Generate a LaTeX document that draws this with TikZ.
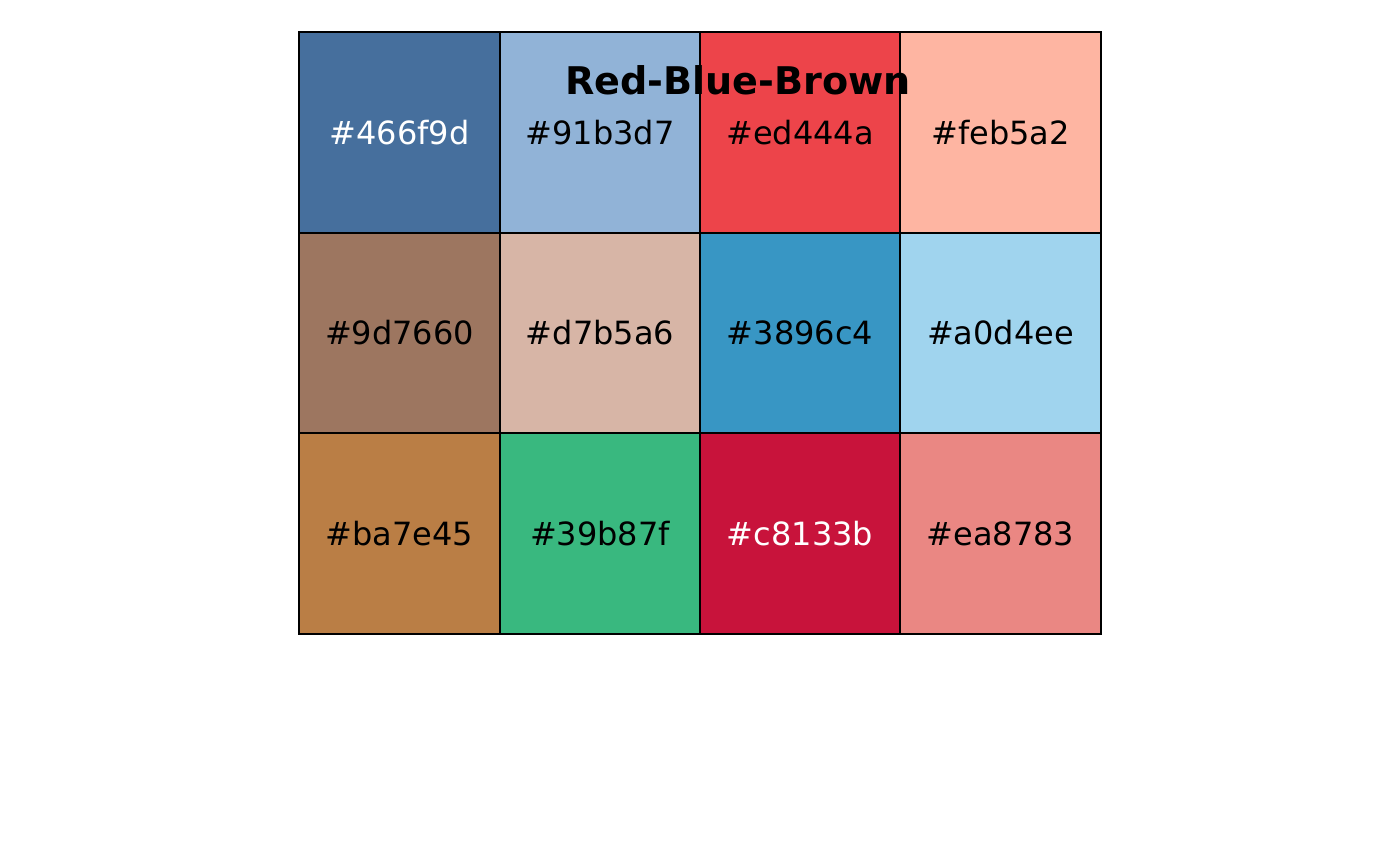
\documentclass[tikz,border=0pt]{standalone}
\usepackage{fontspec}
\setmainfont{DejaVu Sans}
\definecolor{cA}{HTML}{466f9d}
\definecolor{cB}{HTML}{91b3d7}
\definecolor{cC}{HTML}{ed444a}
\definecolor{cD}{HTML}{feb5a2}
\definecolor{cE}{HTML}{9d7660}
\definecolor{cF}{HTML}{d7b5a6}
\definecolor{cG}{HTML}{3896c4}
\definecolor{cH}{HTML}{a0d4ee}
\definecolor{cI}{HTML}{ba7e45}
\definecolor{cJ}{HTML}{39b87f}
\definecolor{cK}{HTML}{c8133b}
\definecolor{cL}{HTML}{ea8783}
\tikzset{
  swatch/.style={minimum width=150.5pt, minimum height=150.5pt, inner sep=0pt, outer sep=0pt, font=\fontsize{24pt}{28pt}\selectfont},
  border/.style={draw=black, line width=1.1pt},
  titletext/.style={font=\fontsize{28.6pt}{34pt}\selectfont\bfseries, inner sep=0pt}
}
\begin{document}
\begin{tikzpicture}[x=0.75pt,y=-0.75pt]
\useasboundingbox (0,0) rectangle (1400,866);
\node[swatch, fill=cA, text=white] (a) at (399.5,132.5) {\#466f9d};
\node[swatch, fill=cB] (b) at (600,132.5) {\#91b3d7};
\node[swatch, fill=cC] (c) at (800,132.5) {\#ed444a};
\node[swatch, fill=cD] (d) at (1000.5,132.5) {\#feb5a2};
\node[swatch, fill=cE] (e) at (399.5,333) {\#9d7660};
\node[swatch, fill=cF] (f) at (600,333) {\#d7b5a6};
\node[swatch, fill=cG] (g) at (800,333) {\#3896c4};
\node[swatch, fill=cH] (h) at (1000.5,333) {\#a0d4ee};
\node[swatch, fill=cI] (i) at (399.5,533.5) {\#ba7e45};
\node[swatch, fill=cJ] (j) at (600,533.5) {\#39b87f};
\node[swatch, fill=cK, text=white] (k) at (800,533.5) {\#c8133b};
\node[swatch, fill=cL] (l) at (1000.5,533.5) {\#ea8783};
\foreach \n in {a,b,c,d,e,f,g,h,i,j,k,l}
  \draw[border] (\n.north west) rectangle (\n.south east);
\node[titletext] (title) at (738,80) {Red-Blue-Brown};
\end{tikzpicture}
\end{document}
